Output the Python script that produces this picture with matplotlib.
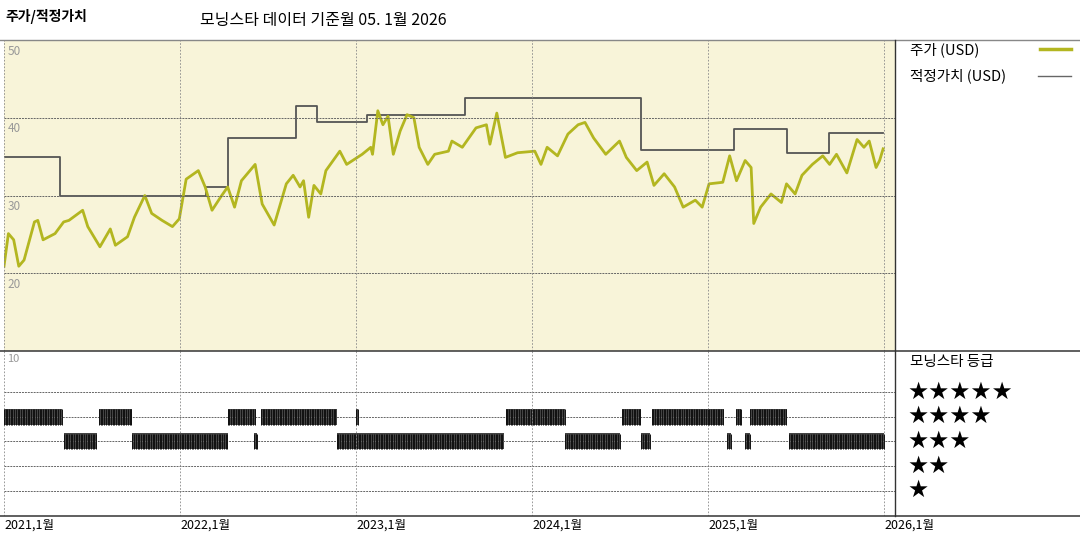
import numpy as np
import matplotlib.pyplot as plt
from matplotlib.lines import Line2D

plt.rcParams['font.family'] = ['Noto Sans CJK KR', 'DejaVu Sans']

# years since 2021-01
price_t = [0, .025, .055, .084, .114, .173, .192, .222, .290, .339, .369, .447, .476, .545, .604, .633,
           .702, .741, .8, .839, .898, .957, .996, 1.035, 1.104, 1.143, 1.182, 1.231, 1.271, 1.31, 1.349,
           1.427, 1.467, 1.535, 1.604, 1.643, 1.682, 1.702, 1.731, 1.761, 1.8, 1.829, 1.908, 1.947, 2.035,
           2.084, 2.094, 2.124, 2.153, 2.182, 2.212, 2.251, 2.29, 2.329, 2.359, 2.408, 2.447, 2.525, 2.545,
           2.604, 2.682, 2.741, 2.761, 2.8, 2.849, 2.918, 3.016, 3.051, 3.086, 3.145, 3.204, 3.262, 3.301,
           3.35, 3.419, 3.497, 3.536, 3.595, 3.654, 3.693, 3.751, 3.81, 3.859, 3.928, 3.967, 4.006, 4.084,
           4.123, 4.162, 4.211, 4.245, 4.26, 4.299, 4.358, 4.417, 4.446, 4.495, 4.534, 4.593, 4.652, 4.691,
           4.73, 4.789, 4.847, 4.886, 4.916, 4.955, 4.975, 4.995]
price = [20.9, 25.1, 24.3, 20.9, 21.7, 26.6, 26.8, 24.3, 25.1, 26.6, 26.8, 28.1, 26.0, 23.4, 25.7, 23.6,
         24.7, 27.2, 30.0, 27.7, 26.8, 26.0, 27.0, 32.1, 33.2, 31.1, 28.1, 29.8, 31.1, 28.5, 31.9,
         34.0, 28.9, 26.2, 31.5, 32.6, 31.1, 31.9, 27.2, 31.3, 30.2, 33.2, 35.7, 34.0, 35.3,
         36.2, 35.3, 40.9, 39.1, 40.2, 35.3, 38.3, 40.4, 40.0, 36.2, 34.0, 35.3, 35.7, 37.0,
         36.2, 38.7, 39.1, 36.6, 40.6, 34.9, 35.5, 35.7, 34.0, 36.2, 35.1, 37.9, 39.1, 39.4,
         37.4, 35.3, 37.0, 34.9, 33.2, 34.3, 31.3, 32.8, 31.1, 28.5, 29.4, 28.5, 31.5, 31.7,
         35.1, 31.9, 34.5, 33.6, 26.4, 28.5, 30.2, 29.1, 31.5, 30.2, 32.6, 34.0, 35.1, 34.0,
         35.3, 32.9, 37.2, 36.2, 37.0, 33.6, 34.5, 36.0]

fair_t = [0, .32, 1.15, 1.27, 1.66, 1.78, 2.06, 2.62, 3.62, 4.15, 4.45, 4.69, 4.995]
fair = [35.0, 30.0, 31.06, 37.45, 41.5, 39.5, 40.4, 42.5, 35.87, 38.6, 35.45, 38.1, 38.1]

# morningstar rating periods (start, end, stars)
rating_start = [0.0, .54, 1.27, 1.46, 2.0, 2.85, 3.51, 3.68, 4.16, 4.24,
                .34, .73, 1.42, 1.89, 3.19, 3.62, 4.11, 4.21, 4.46]
rating_end = [.33, .73, 1.43, 1.89, 2.01, 3.19, 3.62, 4.09, 4.19, 4.45,
              .53, 1.27, 1.44, 2.84, 3.50, 3.67, 4.13, 4.24, 5.0]
rating_stars = [4] * 10 + [3] * 9

years = ['2021', '2022', '2023', '2024', '2025', '2026']

fig = plt.figure(figsize=(10.8, 5.4), dpi=100)
W, H = 1080, 540
x0, aw = 4 / W, 891 / W
xmax = 891 / 176

ax = fig.add_axes([x0, (H - 351) / H, aw, 311 / H])
ax.set_facecolor('#f8f4d9')
ax.plot(fair_t, fair, drawstyle='steps-post', color='#555555', lw=1.3)
ax.plot(price_t, price, color='#b3b620', lw=2.0)
ax.set_xlim(0, xmax)
ax.set_ylim(10, 50)
for v in [20, 30, 40]:
    ax.axhline(v, color='#666666', lw=0.7, ls=(0, (2, 1)))
for v in [50, 40, 30, 20]:
    ax.text(0.02, v - 0.6, str(v), color='#999999', fontsize=8.5, va='top')
for i in range(6):
    ax.axvline(i, color='#888888', lw=0.6, ls=(0, (2, 2)))
ax.set_xticks([])
ax.set_yticks([])
for s in ax.spines.values():
    s.set_visible(False)

ax2 = fig.add_axes([x0, 24 / H, aw, 165 / H])
ax2.set_xlim(0, xmax)
ax2.set_ylim(0, 6.64)
for v in range(1, 6):
    ax2.axhline(v, color='#666666', lw=0.7, ls=(0, (2, 1)))
for i in range(6):
    ax2.axvline(i, color='#888888', lw=0.6, ls=(0, (2, 2)))
ax2.text(0.02, 6.5, '10', color='#999999', fontsize=8, va='top')
for a, b, s in zip(rating_start, rating_end, rating_stars):
    ws = np.arange(a, b, 1 / 104)
    ax2.bar((a + b) / 2, 0.64, width=b - a, bottom=s - 0.32, color='#444444', lw=0)
    ax2.vlines(ws, s - 0.32, s + 0.32, color='#111111', lw=0.7)
ax2.set_yticks([])
ax2.set_xticks(range(6))
ax2.set_xticklabels([y + ',1월' for y in years], fontsize=9, ha='left')
ax2.tick_params(axis='x', length=0, pad=2)
for s in ax2.spines.values():
    s.set_visible(False)

def hline(y, xa=0, xb=1, lw=1.0, c='#444444'):
    fig.add_artist(Line2D([xa, xb], [1 - y / H, 1 - y / H], color=c, lw=lw))

hline(40, 0, 1, 1.0, '#888888')
hline(351, 0, 1, 1.2)
hline(516, 0, 1, 1.2)
fig.add_artist(Line2D([895 / W, 895 / W], [1 - 40 / H, 1 - 516 / H], color='#333333', lw=1.0))

fig.text(5 / W, 1 - 17 / H, '주가/적정가치', fontsize=10, fontweight='bold', va='center')
fig.text(200 / W, 1 - 21 / H, '모닝스타 데이터 기준월 05. 1월 2026', fontsize=11.5, va='center')

fig.text(910 / W, 1 - 50 / H, '주가 (USD)', fontsize=10.5, va='center')
fig.add_artist(Line2D([1040 / W, 1071 / W], [1 - 49 / H] * 2, color='#b3b620', lw=2.5))
fig.text(910 / W, 1 - 76 / H, '적정가치 (USD)', fontsize=10.5, va='center')
fig.add_artist(Line2D([1038 / W, 1071 / W], [1 - 76 / H] * 2, color='#666666', lw=1.0))
fig.text(910 / W, 1 - 362 / H, '모닝스타 등급', fontsize=10.5, va='center')
for n, y in zip([5, 4, 3, 2, 1], [392, 416, 441, 466, 490]):
    fig.text(907 / W, 1 - y / H, '★' * n, fontsize=17, va='center', family=['DejaVu Sans'])

fig.savefig('out.png')
